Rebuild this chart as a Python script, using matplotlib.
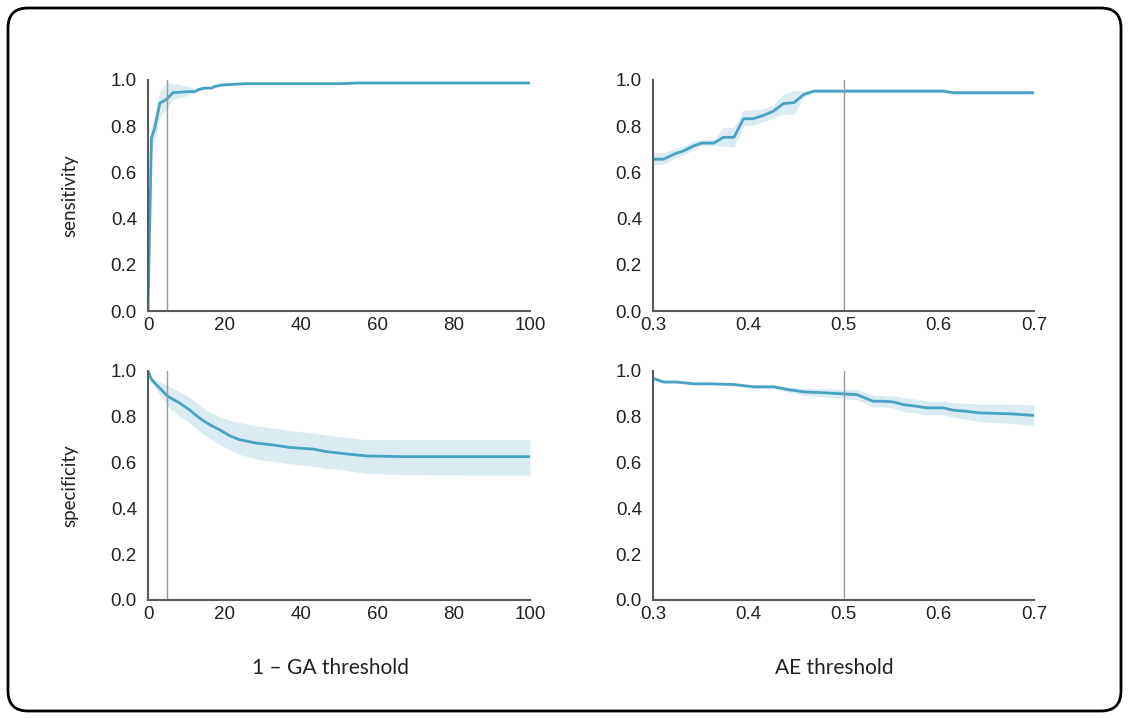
import matplotlib
matplotlib.use("Agg")
import matplotlib.pyplot as plt
from matplotlib.patches import FancyBboxPatch

# sensitivity vs 1 - GA threshold
ga_sens_x = [0, 0.9, 1.75, 3.1, 4.8, 6.5, 10.9, 12.2, 13.5, 14.8, 16.6, 17.5, 19.2, 23.1, 25.8, 50.2, 54.6, 100]
ga_sens = [0.0, 0.75, 0.79, 0.90, 0.915, 0.945, 0.95, 0.95, 0.96, 0.965, 0.965, 0.972, 0.978, 0.982, 0.984, 0.984, 0.987, 0.987]
ga_sens_lo = [0.0, 0.70, 0.74, 0.84, 0.87, 0.915, 0.935, 0.945, 0.955, 0.96, 0.962, 0.969, 0.975, 0.98, 0.982, 0.982, 0.985, 0.985]
ga_sens_hi = [0.0, 0.80, 0.85, 0.95, 0.99, 0.985, 0.97, 0.955, 0.965, 0.97, 0.968, 0.975, 0.981, 0.985, 0.987, 0.987, 0.989, 0.989]

# sensitivity vs AE threshold
ae_sens_x = [0.3, 0.311, 0.322, 0.332, 0.343, 0.351, 0.364, 0.374, 0.385, 0.395, 0.405, 0.416, 0.426, 0.437, 0.448, 0.458, 0.469, 0.605, 0.615, 0.7]
ae_sens = [0.657, 0.657, 0.679, 0.693, 0.715, 0.727, 0.727, 0.752, 0.752, 0.832, 0.832, 0.847, 0.864, 0.898, 0.902, 0.937, 0.952, 0.952, 0.945, 0.945]
ae_sens_lo = [0.63, 0.635, 0.66, 0.675, 0.70, 0.715, 0.715, 0.715, 0.71, 0.80, 0.805, 0.82, 0.835, 0.855, 0.85, 0.925, 0.944, 0.944, 0.938, 0.938]
ae_sens_hi = [0.685, 0.685, 0.70, 0.715, 0.735, 0.742, 0.742, 0.795, 0.795, 0.87, 0.87, 0.875, 0.89, 0.94, 0.955, 0.952, 0.96, 0.96, 0.952, 0.952]

# specificity vs 1 - GA threshold
ga_spec_x = [0, 0.9, 2.2, 5.2, 8.3, 10.9, 13.5, 16.2, 18.8, 21.4, 24.0, 28.4, 32.8, 37.1, 43.2, 46.7, 51.9, 57.2, 67.7, 85.2, 100]
ga_spec = [1.0, 0.963, 0.94, 0.889, 0.86, 0.83, 0.794, 0.765, 0.743, 0.717, 0.70, 0.685, 0.677, 0.666, 0.659, 0.648, 0.638, 0.629, 0.626, 0.626, 0.626]
ga_spec_lo = [1.0, 0.95, 0.92, 0.845, 0.80, 0.775, 0.735, 0.705, 0.68, 0.655, 0.635, 0.615, 0.605, 0.595, 0.585, 0.575, 0.565, 0.553, 0.548, 0.545, 0.545]
ga_spec_hi = [1.0, 0.975, 0.96, 0.935, 0.91, 0.885, 0.85, 0.82, 0.80, 0.785, 0.775, 0.76, 0.75, 0.74, 0.73, 0.72, 0.71, 0.70, 0.70, 0.70, 0.70]

# specificity vs AE threshold
ae_spec_x = [0.3, 0.311, 0.325, 0.343, 0.36, 0.385, 0.406, 0.427, 0.44, 0.458, 0.479, 0.5, 0.514, 0.531, 0.542, 0.552, 0.563, 0.577, 0.587, 0.605, 0.615, 0.629, 0.643, 0.675, 0.7]
ae_spec = [0.968, 0.952, 0.952, 0.944, 0.944, 0.941, 0.931, 0.931, 0.92, 0.909, 0.905, 0.9, 0.897, 0.868, 0.868, 0.865, 0.853, 0.846, 0.839, 0.839, 0.829, 0.824, 0.817, 0.813, 0.806]
ae_spec_lo = [0.963, 0.947, 0.947, 0.939, 0.939, 0.935, 0.924, 0.923, 0.91, 0.894, 0.887, 0.88, 0.875, 0.843, 0.843, 0.838, 0.823, 0.816, 0.809, 0.809, 0.797, 0.789, 0.779, 0.771, 0.761]
ae_spec_hi = [0.973, 0.957, 0.957, 0.949, 0.949, 0.947, 0.938, 0.939, 0.93, 0.924, 0.923, 0.92, 0.919, 0.893, 0.893, 0.892, 0.883, 0.876, 0.869, 0.869, 0.861, 0.859, 0.855, 0.855, 0.851]

ga_cut = 5
ae_cut = 0.5
ga_ticks = [0, 20, 40, 60, 80, 100]
ae_ticks = [0.3, 0.4, 0.5, 0.6, 0.7]
y_ticks = [0.0, 0.2, 0.4, 0.6, 0.8, 1.0]

LINE = "#4aa2c2"
SPINE = "#5a5a5a"
TXT = "#222222"
W, H = 1129, 719

plt.rcParams["font.family"] = ["Liberation Sans", "DejaVu Sans"]

fig = plt.figure(figsize=(W / 100, H / 100), dpi=100)

# rounded frame round the whole figure
frame = FancyBboxPatch((0.08, 0.08), (W - 16) / 100, (H - 16) / 100,
                       boxstyle="round,pad=0,rounding_size=0.2",
                       transform=fig.dpi_scale_trans, fill=False,
                       edgecolor="black", linewidth=2)
fig.patches.append(frame)

cols = [(148, 382), (653, 381)]
rows = [(80, 231), (371, 229)]

panels = [
	(0, 0, ga_sens_x, ga_sens, ga_sens_lo, ga_sens_hi, ga_cut, (0, 100), ga_ticks),
	(0, 1, ae_sens_x, ae_sens, ae_sens_lo, ae_sens_hi, ae_cut, (0.3, 0.7), ae_ticks),
	(1, 0, ga_spec_x, ga_spec, ga_spec_lo, ga_spec_hi, ga_cut, (0, 100), ga_ticks),
	(1, 1, ae_spec_x, ae_spec, ae_spec_lo, ae_spec_hi, ae_cut, (0.3, 0.7), ae_ticks),
]

tick_font = dict(family="Liberation Sans", size=13.5, color=TXT)

for r, c, x, y, lo, hi, cut, xlim, xt in panels:
	left, width = cols[c]
	top, height = rows[r]
	ax = fig.add_axes([left / W, 1 - (top + height) / H, width / W, height / H])
	ax.fill_between(x, lo, hi, color=LINE, alpha=0.2, linewidth=0)
	ax.plot(x, y, color=LINE, linewidth=2)
	ax.axvline(cut, color="#999999", linewidth=1)
	ax.set_xlim(*xlim)
	ax.set_ylim(0, 1.0)
	ax.set_xticks(xt)
	ax.set_yticks(y_ticks)
	if c == 0:
		ax.set_xticklabels([str(t) for t in xt], fontdict=tick_font)
	else:
		ax.set_xticklabels(["%.1f" % t for t in xt], fontdict=tick_font)
	ax.set_yticklabels(["%.1f" % t for t in y_ticks], fontdict=tick_font)
	ax.tick_params(length=0)
	ax.tick_params(axis="y", pad=8)
	ax.tick_params(axis="x", pad=4)
	for s in ["top", "right"]:
		ax.spines[s].set_visible(False)
	for s in ["left", "bottom"]:
		ax.spines[s].set_color(SPINE)
		ax.spines[s].set_linewidth(1.5)

lab = dict(family=["Lato", "DejaVu Sans"], color=TXT)
fig.text(70 / W, 1 - 196 / H, "sensitivity", rotation=90, ha="center", va="center", fontsize=13.5, **lab)
fig.text(70 / W, 1 - 486 / H, "specificity", rotation=90, ha="center", va="center", fontsize=13.5, **lab)
fig.text(330 / W, 1 - 668 / H, "1 – GA threshold", ha="center", va="center", fontsize=15, **lab)
fig.text(834 / W, 1 - 668 / H, "AE threshold", ha="center", va="center", fontsize=15, **lab)

fig.savefig("out.png", dpi=100)
